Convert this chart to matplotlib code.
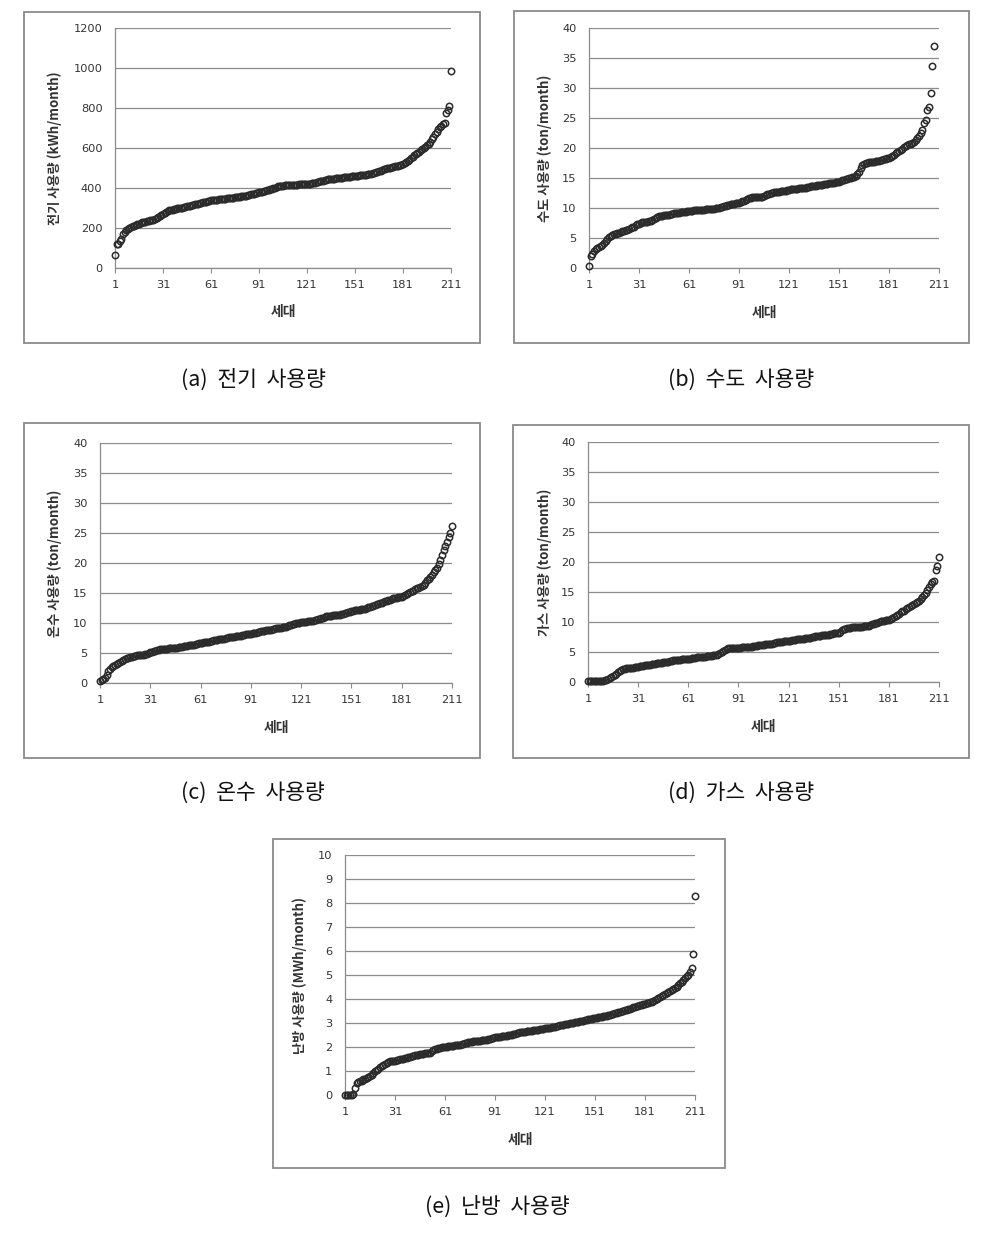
"""Five sorted household-usage scatter panels (Excel-style), 211 households each."""
import matplotlib
matplotlib.use("Agg")
import matplotlib.pyplot as plt
from matplotlib.patches import Rectangle

KR = ["Noto Sans CJK KR", "DejaVu Sans"]
INK, GRID = "#333333", "#8c8c8c"

# --- values, sorted per household -------------------------------------------
ELEC = [65, 118, 122, 135, 145, 172, 180, 188, 195, 200,
        205, 208, 212, 216, 220, 222, 225, 228, 230, 232,
        234, 236, 238, 240, 242, 246, 250, 255, 260, 265,
        270, 275, 280, 284, 288, 290, 292, 294, 296, 298,
        300, 301, 302, 304, 306, 308, 310, 312, 314, 316,
        318, 320, 322, 324, 326, 328, 330, 332, 334, 336,
        338, 339, 340, 341, 342, 343, 344, 345, 346, 347,
        348, 349, 350, 351, 352, 354, 355, 356, 357, 358,
        360, 361, 362, 364, 366, 368, 370, 372, 374, 376,
        378, 380, 382, 384, 386, 388, 390, 393, 396, 399,
        402, 405, 408, 410, 411, 412, 413, 414, 414, 415,
        415, 416, 416, 417, 417, 418, 418, 419, 419, 420,
        420, 421, 422, 423, 425, 427, 429, 431, 433, 435,
        437, 439, 441, 443, 444, 445, 446, 447, 448, 449,
        450, 451, 452, 453, 454, 455, 456, 457, 458, 459,
        460, 461, 462, 463, 464, 465, 466, 467, 468, 470,
        472, 474, 476, 478, 481, 484, 487, 490, 493, 496,
        498, 500, 502, 504, 506, 508, 510, 512, 514, 516,
        520, 524, 528, 533, 540, 548, 556, 563, 570, 576,
        582, 588, 594, 600, 606, 614, 622, 632, 645, 655,
        670, 682, 694, 704, 712, 718, 724, 777, 790, 810,
        987]

WATER = [0.3, 2.0, 2.4, 2.8, 3.1, 3.3, 3.5, 3.7, 3.9, 4.2,
         4.5, 4.9, 5.2, 5.4, 5.5, 5.6, 5.7, 5.8, 5.9, 6.0,
         6.1, 6.2, 6.3, 6.4, 6.5, 6.6, 6.8, 6.9, 7.1, 7.3,
         7.4, 7.5, 7.6, 7.6, 7.7, 7.7, 7.8, 7.9, 8.0, 8.2,
         8.4, 8.5, 8.6, 8.7, 8.7, 8.8, 8.8, 8.9, 8.9, 9.0,
         9.0, 9.1, 9.1, 9.2, 9.2, 9.3, 9.3, 9.4, 9.4, 9.5,
         9.5, 9.5, 9.5, 9.6, 9.6, 9.6, 9.6, 9.7, 9.7, 9.7,
         9.8, 9.8, 9.8, 9.9, 9.9, 9.9, 10.0, 10.0, 10.0, 10.1,
         10.2, 10.3, 10.4, 10.5, 10.5, 10.6, 10.6, 10.7, 10.8, 10.8,
         10.9, 11.0, 11.1, 11.2, 11.4, 11.5, 11.7, 11.7, 11.8, 11.8,
         11.8, 11.8, 11.8, 11.9, 11.9, 12.0, 12.2, 12.3, 12.4, 12.5,
         12.5, 12.6, 12.6, 12.7, 12.7, 12.8, 12.8, 12.9, 12.9, 13.0,
         13.0, 13.1, 13.1, 13.2, 13.2, 13.2, 13.3, 13.3, 13.3, 13.4,
         13.4, 13.5, 13.5, 13.6, 13.6, 13.7, 13.7, 13.8, 13.8, 13.9,
         13.9, 14.0, 14.0, 14.0, 14.1, 14.1, 14.2, 14.2, 14.3, 14.3,
         14.4, 14.5, 14.6, 14.7, 14.8, 14.9, 15.0, 15.0, 15.1, 15.2,
         15.4, 15.6, 16.0, 16.6, 17.2, 17.4, 17.5, 17.5, 17.6, 17.6,
         17.7, 17.7, 17.8, 17.8, 17.9, 18.0, 18.0, 18.1, 18.2, 18.3,
         18.4, 18.5, 18.7, 18.9, 19.1, 19.3, 19.5, 19.7, 19.9, 20.1,
         20.3, 20.5, 20.6, 20.7, 20.8, 21.0, 21.3, 21.6, 22.0, 22.5,
         23.0, 24.1, 24.7, 26.3, 26.8, 29.2, 33.7, 37.0]

HOTWATER = [0.3, 0.5, 0.6, 0.9, 1.3, 2.0, 2.3, 2.6, 2.8, 3.0,
            3.2, 3.4, 3.5, 3.7, 3.8, 4.0, 4.1, 4.2, 4.3, 4.4,
            4.5, 4.5, 4.6, 4.6, 4.6, 4.7, 4.7, 4.8, 4.9, 5.0,
            5.1, 5.2, 5.3, 5.4, 5.5, 5.5, 5.6, 5.6, 5.7, 5.7,
            5.7, 5.8, 5.8, 5.8, 5.9, 5.9, 5.9, 6.0, 6.0, 6.0,
            6.1, 6.1, 6.2, 6.3, 6.3, 6.4, 6.4, 6.5, 6.5, 6.6,
            6.7, 6.7, 6.8, 6.8, 6.9, 6.9, 7.0, 7.0, 7.1, 7.2,
            7.2, 7.3, 7.3, 7.4, 7.4, 7.5, 7.5, 7.6, 7.6, 7.7,
            7.7, 7.8, 7.8, 7.9, 7.9, 8.0, 8.0, 8.1, 8.1, 8.2,
            8.2, 8.3, 8.3, 8.4, 8.5, 8.5, 8.6, 8.6, 8.7, 8.8,
            8.8, 8.9, 8.9, 9.0, 9.0, 9.1, 9.1, 9.2, 9.2, 9.3,
            9.3, 9.4, 9.5, 9.6, 9.7, 9.8, 9.9, 10.0, 10.0, 10.0,
            10.1, 10.1, 10.2, 10.2, 10.3, 10.3, 10.4, 10.4, 10.5, 10.5,
            10.6, 10.7, 10.8, 10.9, 11.0, 11.1, 11.1, 11.2, 11.2, 11.3,
            11.3, 11.3, 11.4, 11.4, 11.5, 11.5, 11.6, 11.7, 11.8, 11.9,
            12.0, 12.0, 12.1, 12.1, 12.2, 12.2, 12.3, 12.3, 12.4, 12.5,
            12.6, 12.7, 12.8, 12.9, 13.0, 13.1, 13.2, 13.3, 13.4, 13.5,
            13.6, 13.7, 13.8, 13.9, 14.0, 14.1, 14.1, 14.2, 14.3, 14.3,
            14.4, 14.5, 14.6, 14.8, 15.0, 15.2, 15.3, 15.4, 15.6, 15.8,
            15.9, 16.0, 16.2, 16.4, 16.7, 17.1, 17.4, 17.7, 18.0, 18.5,
            18.8, 19.1, 19.8, 20.5, 21.3, 22.1, 22.8, 23.5, 24.3, 25.0,
            26.2]

GAS = [0.1, 0.1, 0.1, 0.1, 0.1, 0.1, 0.1, 0.2, 0.2, 0.2,
       0.3, 0.4, 0.5, 0.6, 0.8, 1.0, 1.2, 1.4, 1.6, 1.8,
       2.0, 2.1, 2.2, 2.3, 2.3, 2.4, 2.4, 2.4, 2.5, 2.5,
       2.5, 2.6, 2.6, 2.7, 2.8, 2.8, 2.9, 2.9, 3.0, 3.0,
       3.0, 3.1, 3.1, 3.2, 3.2, 3.3, 3.3, 3.4, 3.4, 3.5,
       3.5, 3.6, 3.6, 3.7, 3.7, 3.7, 3.8, 3.8, 3.8, 3.9,
       3.9, 3.9, 4.0, 4.0, 4.0, 4.1, 4.1, 4.1, 4.2, 4.2,
       4.2, 4.3, 4.3, 4.4, 4.4, 4.5, 4.5, 4.5, 4.6, 4.8,
       5.0, 5.2, 5.4, 5.5, 5.6, 5.6, 5.6, 5.6, 5.7, 5.7,
       5.7, 5.7, 5.8, 5.8, 5.8, 5.8, 5.9, 5.9, 5.9, 6.0,
       6.0, 6.0, 6.1, 6.1, 6.2, 6.2, 6.3, 6.3, 6.4, 6.4,
       6.4, 6.5, 6.5, 6.6, 6.6, 6.7, 6.7, 6.8, 6.8, 6.9,
       6.9, 6.9, 7.0, 7.0, 7.0, 7.1, 7.1, 7.1, 7.2, 7.2,
       7.3, 7.3, 7.4, 7.4, 7.5, 7.5, 7.6, 7.6, 7.7, 7.7,
       7.8, 7.8, 7.8, 7.9, 7.9, 8.0, 8.0, 8.1, 8.1, 8.2,
       8.2, 8.4, 8.6, 8.8, 8.9, 9.0, 9.0, 9.0, 9.1, 9.1,
       9.1, 9.1, 9.2, 9.2, 9.2, 9.3, 9.3, 9.3, 9.4, 9.5,
       9.6, 9.7, 9.8, 9.9, 10.0, 10.1, 10.2, 10.2, 10.3, 10.3,
       10.4, 10.5, 10.7, 10.8, 11.0, 11.2, 11.4, 11.6, 11.8, 11.9,
       12.1, 12.3, 12.5, 12.6, 12.8, 13.0, 13.1, 13.3, 13.5, 13.9,
       14.2, 14.5, 14.9, 15.3, 15.8, 16.4, 16.7, 16.9, 18.6, 19.3,
       20.8]

HEAT = [0.0, 0.0, 0.0, 0.0, 0.0, 0.05, 0.3, 0.5, 0.55, 0.6,
        0.6, 0.65, 0.65, 0.7, 0.75, 0.8, 0.85, 0.9, 1.0, 1.05,
        1.1, 1.15, 1.2, 1.25, 1.3, 1.35, 1.38, 1.4, 1.4, 1.42,
        1.42, 1.44, 1.46, 1.48, 1.5, 1.52, 1.54, 1.56, 1.58, 1.6,
        1.62, 1.64, 1.65, 1.66, 1.68, 1.7, 1.71, 1.72, 1.73, 1.74,
        1.75, 1.76, 1.85, 1.88, 1.9, 1.92, 1.94, 1.96, 1.98, 2.0,
        2.0, 2.02, 2.03, 2.04, 2.05, 2.06, 2.07, 2.08, 2.09, 2.1,
        2.12, 2.14, 2.16, 2.18, 2.2, 2.21, 2.22, 2.23, 2.24, 2.25,
        2.26, 2.27, 2.28, 2.29, 2.3, 2.31, 2.32, 2.34, 2.36, 2.38,
        2.4, 2.41, 2.42, 2.43, 2.44, 2.45, 2.46, 2.47, 2.48, 2.5,
        2.52, 2.54, 2.56, 2.58, 2.6, 2.61, 2.62, 2.63, 2.64, 2.65,
        2.66, 2.67, 2.68, 2.69, 2.7, 2.71, 2.72, 2.74, 2.76, 2.77,
        2.78, 2.79, 2.8, 2.81, 2.82, 2.84, 2.85, 2.87, 2.88, 2.9,
        2.91, 2.93, 2.94, 2.96, 2.97, 2.99, 3.0, 3.02, 3.03, 3.05,
        3.06, 3.08, 3.09, 3.1, 3.12, 3.13, 3.15, 3.16, 3.18, 3.19,
        3.2, 3.22, 3.23, 3.25, 3.26, 3.28, 3.3, 3.31, 3.33, 3.35,
        3.37, 3.39, 3.41, 3.43, 3.45, 3.47, 3.49, 3.51, 3.53, 3.55,
        3.57, 3.6, 3.63, 3.66, 3.68, 3.7, 3.72, 3.74, 3.76, 3.78,
        3.8, 3.82, 3.84, 3.86, 3.88, 3.92, 3.96, 4.0, 4.05, 4.1,
        4.14, 4.18, 4.22, 4.26, 4.3, 4.34, 4.38, 4.42, 4.46, 4.5,
        4.58, 4.65, 4.72, 4.79, 4.86, 4.94, 5.02, 5.12, 5.28, 5.88,
        8.29]

XTICKS = [1, 31, 61, 91, 121, 151, 181, 211]
YLABELS = ["전기 사용량 (kWh/month)", "수도 사용량 (ton/month)",
           "온수 사용량 (ton/month)", "가스 사용량 (ton/month)",
           "난방 사용량 (MWh/month)"]
CAPTIONS = ["(a)  전기  사용량", "(b)  수도  사용량", "(c)  온수  사용량",
            "(d)  가스  사용량", "(e)  난방  사용량"]
YMAX = [1200, 40, 40, 40, 10]
YSTEP = [200, 5, 5, 5, 1]

W, H = 999, 1236
# pixel layout: (box x0, y0, x1, y1), (axes x0, y0, x1, y1), ylabel x, xlabel y, caption (x, y)
LAYOUT = [
    ((24, 12, 480, 343), (115, 28, 451, 268), 55, 312, (253, 380)),
    ((514, 11, 969, 343), (589, 28, 939, 268), 545, 313, (741, 380)),
    ((24, 423, 480, 758), (100, 443, 452, 683), 55, 728, (253, 793)),
    ((513, 425, 969, 758), (588, 442, 939, 682), 545, 727, (741, 793)),
    ((273, 839, 725, 1168), (345, 855, 695, 1095), 300, 1140, (497, 1207)),
]
SERIES = [ELEC, WATER, HOTWATER, GAS, HEAT]


def fx(px):
    return px / W


def fy(py):
    return 1 - py / H


def panel(fig, k):
    box, ax_px, ylx, xly, cap = LAYOUT[k]
    bx0, by0, bx1, by1 = box
    fig.patches.append(Rectangle((fx(bx0), fy(by1)), fx(bx1 - bx0), (by1 - by0) / H,
                                 transform=fig.transFigure, fill=False,
                                 edgecolor="#8a8a8a", lw=1.3))
    x0, y0, x1, y1 = ax_px
    ax = fig.add_axes([fx(x0), fy(y1), fx(x1 - x0), (y1 - y0) / H])
    vals = SERIES[k]
    xs = list(range(1, len(vals) + 1))
    ax.plot(xs, vals, "o", ls="none", ms=4.6, mfc="none", mec="#2b2b2b",
            mew=1.1, clip_on=False, zorder=3)
    ax.set_xlim(1, 211)
    ax.set_ylim(0, YMAX[k])
    ax.set_xticks(XTICKS)
    ax.set_yticks(list(range(0, YMAX[k] + 1, YSTEP[k])))
    ax.grid(axis="y", color=GRID, lw=0.9)
    ax.set_axisbelow(True)
    for s in ("top", "right"):
        ax.spines[s].set_visible(False)
    for s in ("left", "bottom"):
        ax.spines[s].set_color(GRID)
        ax.spines[s].set_linewidth(0.9)
    ax.tick_params(axis="y", length=0, pad=9, labelsize=8.2, labelcolor=INK)
    ax.tick_params(axis="x", length=3.5, width=0.8, color=GRID, pad=5,
                   labelsize=8.2, labelcolor=INK)
    ax.text((ylx - x0) / (x1 - x0), 0.5, YLABELS[k], transform=ax.transAxes,
            rotation=90, ha="center", va="center", fontsize=9.5,
            fontweight="bold", family=KR, color=INK)
    ax.text(0.5, (y1 - xly) / (y1 - y0), "세대", transform=ax.transAxes,
            ha="center", va="center", fontsize=10, fontweight="bold",
            family=KR, color=INK)
    fig.text(fx(cap[0]), fy(cap[1]), CAPTIONS[k], ha="center", va="center",
             fontsize=15.5, family=KR, color="#111111")


def main():
    fig = plt.figure(figsize=(W / 100, H / 100), dpi=100)
    fig.patch.set_facecolor("white")
    for k in range(5):
        panel(fig, k)
    fig.savefig("out.png", dpi=100, facecolor="white")


if __name__ == "__main__":
    main()
